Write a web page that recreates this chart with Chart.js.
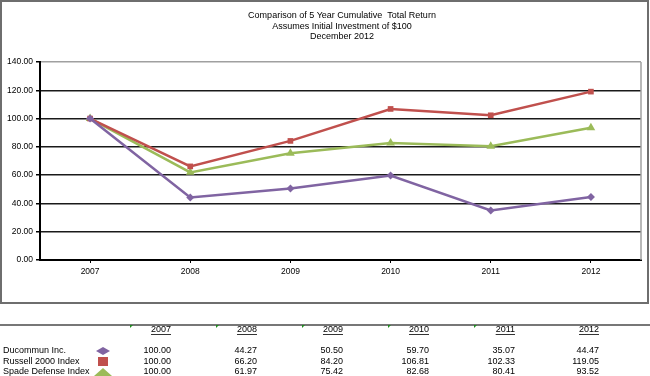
<!DOCTYPE html>
<html>
<head>
<meta charset="utf-8">
<script src="https://cdn.jsdelivr.net/npm/chart.js@4"></script>
<style>
  html, body { margin: 0; padding: 0; background: #fff; }
  #wrap { position: relative; width: 650px; height: 376px; }
</style>
</head>
<body>
<div id="wrap"><canvas id="returnChart" width="650" height="376"></canvas></div>
<script>
// Chart data
const years = ['2007', '2008', '2009', '2010', '2011', '2012'];
const seriesNames = ['Ducommun Inc.', 'Russell 2000 Index', 'Spade Defense Index'];
const ducommun = [100.00, 44.27, 50.50, 59.70, 35.07, 44.47];
const russell = [100.00, 66.20, 84.20, 106.81, 102.33, 119.05];
const spade = [100.00, 61.97, 75.42, 82.68, 80.41, 93.52];
const titleLines = ['Comparison of 5 Year Cumulative  Total Return', 'Assumes Initial Investment of $100', 'December 2012'];

const seriesColors = ['#8064A2', '#C0504D', '#9BBB59'];
const seriesStyles = ['rectRot', 'rect', 'triangle'];
const FONT = '"Liberation Sans", Arial, sans-serif';

// Draws the outer frame, the title and the data table below the chart
const extrasPlugin = {
    id: 'extras',
    beforeDraw(chart) {
        const ctx = chart.ctx;
        ctx.save();
        ctx.fillStyle = '#fff';
        ctx.fillRect(0, 0, chart.width, chart.height);
        ctx.restore();
    },
    afterDraw(chart) {
        const ctx = chart.ctx;
        const area = chart.chartArea;
        ctx.save();

        // right and top border of the plot
        ctx.strokeStyle = '#a0a0a0';
        ctx.lineWidth = 1.5;
        ctx.beginPath();
        ctx.moveTo(area.right, area.top);
        ctx.lineTo(area.right, area.bottom);
        ctx.stroke();

        // outer frame
        ctx.strokeStyle = '#6e6e6e';
        ctx.lineWidth = 2;
        ctx.strokeRect(1, 1, 647, 302);

        // title
        ctx.fillStyle = '#000';
        ctx.font = '9px ' + FONT;
        ctx.textAlign = 'center';
        ctx.textBaseline = 'middle';
        titleLines.forEach((t, i) => ctx.fillText(t, 342, 16 + i * 10.5));

        // table rule
        ctx.strokeStyle = '#777';
        ctx.lineWidth = 2;
        ctx.beginPath();
        ctx.moveTo(0, 325);
        ctx.lineTo(650, 325);
        ctx.stroke();

        // table headers and values
        const colRight = [171, 257, 343, 429, 515, 599];
        const rowY = [351, 361.5, 372];
        const allSeries = [ducommun, russell, spade];
        ctx.font = '9px ' + FONT;
        ctx.textAlign = 'right';
        years.forEach((y, i) => {
            ctx.fillStyle = '#000';
            ctx.fillText(y, colRight[i], 330);
            const w = ctx.measureText(y).width;
            ctx.fillRect(colRight[i] - w, 334, w, 0.8);
            // small green cell markers
            if (i < 5) {
                const gx = colRight[i] - 41;
                ctx.fillStyle = '#1f8a1f';
                ctx.beginPath();
                ctx.moveTo(gx, 325);
                ctx.lineTo(gx + 3, 325);
                ctx.lineTo(gx, 328);
                ctx.closePath();
                ctx.fill();
            }
        });
        ctx.fillStyle = '#000';
        allSeries.forEach((vals, r) => {
            vals.forEach((v, i) => ctx.fillText(v.toFixed(2), colRight[i], rowY[r]));
        });
        ctx.textAlign = 'left';
        seriesNames.forEach((n, r) => ctx.fillText(n, 3, rowY[r]));

        // legend markers in the table
        const mx = 103;
        ctx.fillStyle = seriesColors[0];
        ctx.beginPath();
        ctx.moveTo(mx - 7, rowY[0]);
        ctx.lineTo(mx, rowY[0] - 4);
        ctx.lineTo(mx + 7, rowY[0]);
        ctx.lineTo(mx, rowY[0] + 4);
        ctx.closePath();
        ctx.fill();
        ctx.fillStyle = seriesColors[1];
        ctx.fillRect(mx - 5, rowY[1] - 4.5, 10, 9);
        ctx.fillStyle = seriesColors[2];
        ctx.beginPath();
        ctx.moveTo(mx - 9, rowY[2] + 4);
        ctx.lineTo(mx, rowY[2] - 4);
        ctx.lineTo(mx + 9, rowY[2] + 4);
        ctx.closePath();
        ctx.fill();

        ctx.restore();
    }
};

const ctx = document.getElementById('returnChart').getContext('2d');
const datasets = [ducommun, russell, spade].map((vals, i) => ({
    label: seriesNames[i],
    data: vals,
    borderColor: seriesColors[i],
    backgroundColor: seriesColors[i],
    borderWidth: 2.5,
    pointStyle: seriesStyles[i],
    pointRadius: i === 2 ? 5 : 4,
    pointBorderWidth: 0,
    tension: 0,
    fill: false
}));

new Chart(ctx, {
    type: 'line',
    data: { labels: years, datasets: datasets },
    plugins: [extrasPlugin],
    options: {
        responsive: false,
        animation: false,
        events: [],
        layout: { padding: { left: 0, right: 9, top: 62, bottom: 96 } },
        plugins: {
            legend: { display: false },
            title: { display: false },
            tooltip: { enabled: false }
        },
        scales: {
            x: {
                offset: true,
                grid: {
                    drawOnChartArea: false,
                    drawTicks: true,
                    tickLength: 3,
                    color: '#000',
                    offset: false
                },
                border: { color: '#000', width: 2 },
                ticks: {
                    color: '#000',
                    font: { family: FONT, size: 8.5 },
                    padding: 4,
                    maxRotation: 0
                },
                afterFit: s => { s.height = 20; }
            },
            y: {
                min: 0,
                max: 140,
                ticks: {
                    stepSize: 20,
                    color: '#000',
                    font: { family: FONT, size: 8.5 },
                    padding: 3,
                    callback: v => v.toFixed(2)
                },
                grid: {
                    color: c => c.tick && c.tick.value === 140 ? '#a0a0a0' : '#1a1a1a',
                    lineWidth: 1.5,
                    tickLength: 4,
                    tickColor: '#000'
                },
                border: { color: '#000', width: 2 },
                afterFit: s => { s.width = 40; }
            }
        }
    }
});
</script>
</body>
</html>
